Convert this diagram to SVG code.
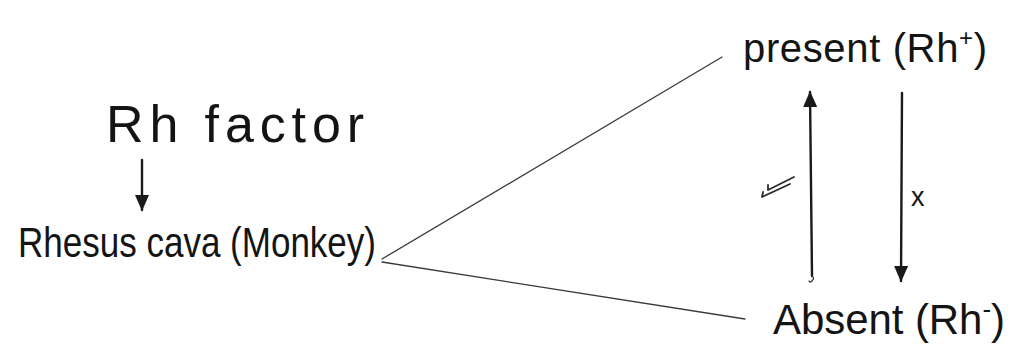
<svg xmlns="http://www.w3.org/2000/svg" width="1013" height="360" viewBox="0 0 1013 360">
  <style>
    .t { font-family: "Liberation Sans", "DejaVu Sans", sans-serif; fill: #141414; }
    .ln { stroke: #3a3a3a; stroke-width: 1.3; fill: none; stroke-linecap: round; }
    .ar { stroke: #1a1a1a; stroke-width: 2.4; fill: none; stroke-linecap: round; }
    .tick { stroke: #2a2a2a; stroke-width: 1.8; fill: none; stroke-linecap: round; stroke-linejoin: round; }
  </style>
  <defs>
    <marker id="tip" viewBox="0 0 16 14" refX="15" refY="7" markerWidth="16" markerHeight="14" markerUnits="userSpaceOnUse" orient="auto">
      <path d="M0,0 L16,7 L0,14 Z" fill="#1a1a1a"/>
    </marker>
  </defs>
  <rect width="1013" height="360" fill="#ffffff"/>

  <g id="rh-factor">
    <text class="t" x="106" y="142" font-size="52" textLength="258" lengthAdjust="spacing">Rh factor</text>
  </g>

  <g id="rhesus">
    <text class="t" x="18" y="257" font-size="43" textLength="358" lengthAdjust="spacingAndGlyphs">Rhesus cava (Monkey)</text>
  </g>

  <g id="present">
    <text class="t" x="743" y="62" font-size="40" textLength="244" lengthAdjust="spacing">present (Rh<tspan font-size="24" dy="-16">+</tspan><tspan dy="16">)</tspan></text>
  </g>

  <g id="absent">
    <text class="t" x="773" y="334" font-size="42" textLength="232" lengthAdjust="spacing">Absent (Rh<tspan font-size="26" dy="-16">-</tspan><tspan dy="16">)</tspan></text>
  </g>

  <g id="connectors">
    <line class="ar" x1="142" y1="160" x2="142" y2="210" marker-end="url(#tip)"/>
    <line class="ln" x1="382" y1="259" x2="722" y2="57"/>
    <line class="ln" x1="382" y1="262" x2="745" y2="319"/>
    <path class="ar" d="M812,276 L810,92" marker-end="url(#tip)"/>
    <path class="ln" d="M812,276 q3,2 0,5 q-2,2 -3,0"/>
    <line class="ar" x1="902" y1="93" x2="901" y2="281" marker-end="url(#tip)"/>
    <path class="tick" d="M763,192 L762,197 L790,184"/>
    <path class="tick" d="M768,185 L768,190 L794,177"/>
    <text class="t" x="911" y="206" font-size="27">x</text>
  </g>
</svg>
